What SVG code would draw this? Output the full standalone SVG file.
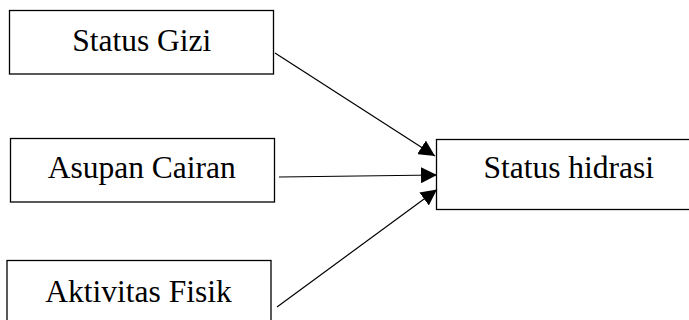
<svg xmlns="http://www.w3.org/2000/svg" width="689" height="320" viewBox="0 0 689 320">
<style>
.box{fill:#fff;stroke:#000;stroke-width:1.3}
.lbl{font-family:"Liberation Serif","Times New Roman",serif;font-size:31.5px;fill:#000;text-anchor:middle}
.conn{stroke:#000;stroke-width:1.2;fill:none}
</style>
<defs>
<marker id="ah" markerUnits="userSpaceOnUse" markerWidth="17" markerHeight="16" refX="16" refY="8" orient="auto">
<path d="M0,0 L16,8 L0,16 Z" fill="#000"/>
</marker>
</defs>
<rect width="689" height="320" fill="#fff"/>
<g id="n1"><rect class="box" x="9.5" y="10.5" width="264" height="63.5"/><text class="lbl" x="141.7" y="50.7">Status Gizi</text></g>
<g id="n2"><rect class="box" x="10.5" y="138.5" width="264" height="63.5"/><text class="lbl" x="141.7" y="178">Asupan Cairan</text></g>
<g id="n3"><rect class="box" x="7" y="260.5" width="264" height="70"/><text class="lbl" x="138.5" y="301.7">Aktivitas Fisik</text></g>
<g id="n4"><rect class="box" x="436.5" y="139.5" width="270" height="70"/><text class="lbl" x="568.7" y="178.3">Status hidrasi</text></g>
<g id="connectors">
<line class="conn" x1="275" y1="53" x2="435" y2="156" marker-end="url(#ah)"/>
<line class="conn" x1="279" y1="177" x2="437" y2="175" marker-end="url(#ah)"/>
<line class="conn" x1="277" y1="307" x2="437" y2="189.5" marker-end="url(#ah)"/>
</g>
</svg>
